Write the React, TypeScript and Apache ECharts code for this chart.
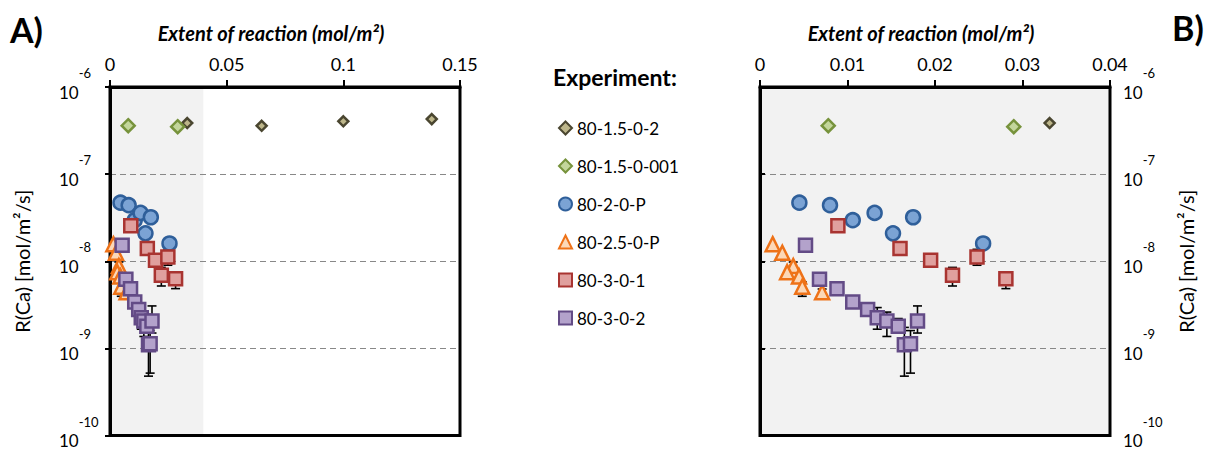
import React, { useEffect, useRef } from 'react';
import * as echarts from 'echarts';

// ---------- data ----------
const seriesNames = ['80-1.5-0-2', '80-1.5-0-001', '80-2-0-P', '80-2.5-0-P', '80-3-0-1', '80-3-0-2'];

// [extent of reaction (mol/m2), R(Ca) (mol/m2/s)]
const d_80_15_0_2 = [[0.0331, 3.86e-7], [0.065, 3.59e-7], [0.100, 4.04e-7], [0.1379, 4.28e-7]];
const d_80_15_0_001 = [[0.0078, 3.6e-7], [0.0290, 3.5e-7]];
const d_80_2_0_P = [[0.0045, 4.7e-8], [0.0080, 4.4e-8], [0.0106, 2.96e-8], [0.0131, 3.59e-8], [0.0152, 2.09e-8], [0.0175, 3.2e-8], [0.0255, 1.6e-8]];
const d_80_25_0_P = [[0.00145, 1.57e-8], [0.00255, 1.25e-8], [0.0038, 8.8e-9], [0.0031, 7.5e-9], [0.00446, 6.7e-9], [0.00483, 5.1e-9], [0.0071, 4.4e-9]];
const d_80_3_0_1 = [[0.0089, 2.55e-8], [0.0160, 1.4e-8], [0.0195, 1.03e-8], [0.0220, 6.9e-9], [0.0248, 1.12e-8], [0.0281, 6.3e-9]];
const d_80_3_0_2 = [[0.0052, 1.53e-8], [0.0068, 6.2e-9], [0.0088, 4.85e-9], [0.0106, 3.4e-9], [0.0123, 2.79e-9], [0.0134, 2.25e-9], [0.0145, 2.06e-9], [0.0158, 1.79e-9], [0.0165, 1.10e-9], [0.0172, 1.13e-9], [0.0180, 2.06e-9]];

// error bars: [x, low, high]
const e_80_2_0_P = [[0.0152, 1.8e-8, 2.3e-8], [0.0175, 2.75e-8, 3.6e-8]];
const e_80_25_0_P = [[0.0038, 7.8e-9, 9.8e-9], [0.00483, 3.96e-9, 5.8e-9], [0.0071, 4.0e-9, 4.8e-9]];
const e_80_3_0_1 = [[0.0220, 5.2e-9, 8.5e-9], [0.0248, 9.0e-9, 1.37e-8], [0.0281, 4.85e-9, 7.5e-9]];
const e_80_3_0_2 = [[0.0134, 1.66e-9, 2.94e-9], [0.0145, 1.37e-9, 2.61e-9], [0.0158, 1.5e-9, 2.2e-9], [0.0165, 4.8e-10, 1.74e-9], [0.0172, 5.2e-10, 1.6e-9], [0.0180, 1.5e-9, 3.07e-9]];

// axis ranges
const xRangeA = [0, 0.15];
const xIntervalA = 0.05;
const xRangeB = [0, 0.04];
const xIntervalB = 0.01;
const yRange = [1e-10, 1e-6];
const shadeRegion = [[0, 1e-10, 0.04, 1e-6]];

const allData = [d_80_15_0_2, d_80_15_0_001, d_80_2_0_P, d_80_25_0_P, d_80_3_0_1, d_80_3_0_2];
const allErr: (number[][] | null)[] = [null, null, e_80_2_0_P, e_80_25_0_P, e_80_3_0_1, e_80_3_0_2];

const styles = [
  { symbol: 'diamond', size: 10, fill: '#bdb68a', border: '#4a4630', bw: 2.5 },
  { symbol: 'diamond', size: 13, fill: '#c3d69b', border: '#77933c', bw: 2.5 },
  { symbol: 'circle', size: 14, fill: '#7ba3d4', border: '#2f5f9a', bw: 2.5 },
  { symbol: 'triangle', size: 14, fill: '#fcd8b8', border: '#ee7218', bw: 2.5 },
  { symbol: 'rect', size: 13, fill: '#e0a09e', border: '#a93431', bw: 2.5 },
  { symbol: 'rect', size: 13, fill: '#b3a2cb', border: '#634b86', bw: 2.5 },
];

const FONT = 'Lato, "Open Sans", sans-serif';

function App() {
  const ref = useRef<HTMLDivElement>(null);
  useEffect(() => {
    if (!ref.current) return;
    const chart = echarts.init(ref.current, null, { renderer: 'svg' });

    const yLabel = {
      fontFamily: FONT,
      color: '#000',
      padding: [0, 0, 7, 0],
      formatter: (v: number) => `{b|10}{s|${Math.round(Math.log10(v))}}`,
      rich: {
        b: { fontSize: 17, fontFamily: FONT, color: '#000', lineHeight: 34, verticalAlign: 'bottom' },
        s: { fontSize: 13, fontFamily: FONT, color: '#000', lineHeight: 13, verticalAlign: 'top' },
      },
    };

    const mkX = (gi: number, range: number[], interval: number) => ({
      type: 'value', gridIndex: gi, position: 'top', min: range[0], max: range[1], interval,
      name: 'Extent of reaction (mol/m²)', nameLocation: 'middle', nameGap: 44,
      nameTextStyle: { fontFamily: FONT, fontSize: 20, fontWeight: 'bold', fontStyle: 'italic', color: '#000', padding: [0, 28, 0, 0] },
      axisLine: { show: true, lineStyle: { color: '#000', width: 3 } },
      axisTick: { show: true, inside: false, length: 7, lineStyle: { color: '#000', width: 2 } },
      axisLabel: { fontFamily: FONT, fontSize: 18, color: '#000', margin: 14 },
      splitLine: { show: false },
    });
    const mkY = (gi: number, pos: string, margin: number, nameGap: number, align: string) => ({
      type: 'log', logBase: 10, gridIndex: gi, position: pos, min: yRange[0], max: yRange[1],
      name: 'R(Ca) [mol/m²/s]', nameLocation: 'middle', nameGap, nameRotate: 90,
      nameTextStyle: { fontFamily: FONT, fontSize: 20, color: '#000' },
      axisLine: { show: true, lineStyle: { color: '#000', width: 3 } },
      axisTick: { show: true, inside: false, length: 5, lineStyle: { color: '#000', width: 2 } },
      axisLabel: { ...yLabel, margin, align },
      splitLine: { show: true, showMinLine: false, showMaxLine: false, lineStyle: { color: '#888', type: [6, 4], width: 1.2 } },
    });

    const series: any[] = [];
    // shaded region in panel A
    series.push({
      type: 'custom', name: 'shade', xAxisIndex: 0, yAxisIndex: 0, z: -1, silent: true,
      data: shadeRegion, encode: { x: [0, 2], y: [1, 3] },
      renderItem: (_p: any, api: any) => {
        const a = api.coord([api.value(0), api.value(3)]);
        const b = api.coord([api.value(2), api.value(1)]);
        return { type: 'rect', shape: { x: a[0], y: a[1], width: b[0] - a[0], height: b[1] - a[1] }, style: { fill: '#f2f2f2' } };
      },
    });

    const errRender = (_p: any, api: any) => {
      const x = api.value(0);
      const lo = api.coord([x, api.value(1)]);
      const hi = api.coord([x, api.value(2)]);
      const cw = 4.5;
      const st = { stroke: '#000', lineWidth: 1.6 };
      return {
        type: 'group', children: [
          { type: 'line', shape: { x1: lo[0], y1: lo[1], x2: hi[0], y2: hi[1] }, style: st },
          { type: 'line', shape: { x1: lo[0] - cw, y1: lo[1], x2: lo[0] + cw, y2: lo[1] }, style: st },
          { type: 'line', shape: { x1: hi[0] - cw, y1: hi[1], x2: hi[0] + cw, y2: hi[1] }, style: st },
        ],
      };
    };

    [0, 1].forEach((gi) => {
      const xmax = gi === 0 ? xRangeA[1] : xRangeB[1];
      allData.forEach((d, i) => {
        const s = styles[i];
        const err = allErr[i];
        if (err) {
          series.push({
            type: 'custom', name: 'err-' + seriesNames[i], xAxisIndex: gi, yAxisIndex: gi, z: 1, silent: true,
            data: err.filter((p) => p[0] <= xmax), encode: { x: 0, y: [1, 2] }, renderItem: errRender,
          });
        }
        series.push({
          type: 'scatter', name: seriesNames[i], xAxisIndex: gi, yAxisIndex: gi, z: 2 + i * 0.1,
          symbol: s.symbol, symbolSize: s.size,
          itemStyle: { color: s.fill, borderColor: s.border, borderWidth: s.bw, opacity: 1 },
          data: d.filter((p) => p[0] <= xmax),
        });
      });
    });

    chart.setOption({
      animation: false,
      backgroundColor: '#fff',
      title: {
        text: 'Experiment:', left: 548, top: 60,
        textStyle: { fontFamily: FONT, fontSize: 23, fontWeight: 'bold', color: '#000' },
      },
      legend: {
        data: seriesNames, orient: 'vertical', left: 553, top: 114,
        itemWidth: 13, itemHeight: 13, itemGap: 20, selectedMode: false,
        textStyle: { fontFamily: FONT, fontSize: 17, color: '#000', lineHeight: 18 },
      },
      graphic: [
        { type: 'text', left: 10, top: 12, style: { text: 'A)', font: `bold 34px ${FONT}`, fill: '#000' } },
        { type: 'text', left: 1172, top: 10, style: { text: 'B)', font: `bold 34px ${FONT}`, fill: '#000' } },
      ],
      grid: [
        { left: 110, top: 87, width: 350, height: 349, show: true, borderColor: '#000', borderWidth: 3, backgroundColor: 'transparent' },
        { left: 760, top: 87, width: 350, height: 349, show: true, borderColor: '#000', borderWidth: 3, backgroundColor: '#f2f2f2' },
      ],
      xAxis: [mkX(0, xRangeA, xIntervalA), mkX(1, xRangeB, xIntervalB)],
      yAxis: [mkY(0, 'left', 51, 78, 'left'), mkY(1, 'right', 13, 66, 'left')],
      series,
    });
    return () => chart.dispose();
  }, []);
  return <div ref={ref} style={{ position: 'fixed', left: 0, top: 0, width: 1215, height: 449 }} />;
}

export default App;
